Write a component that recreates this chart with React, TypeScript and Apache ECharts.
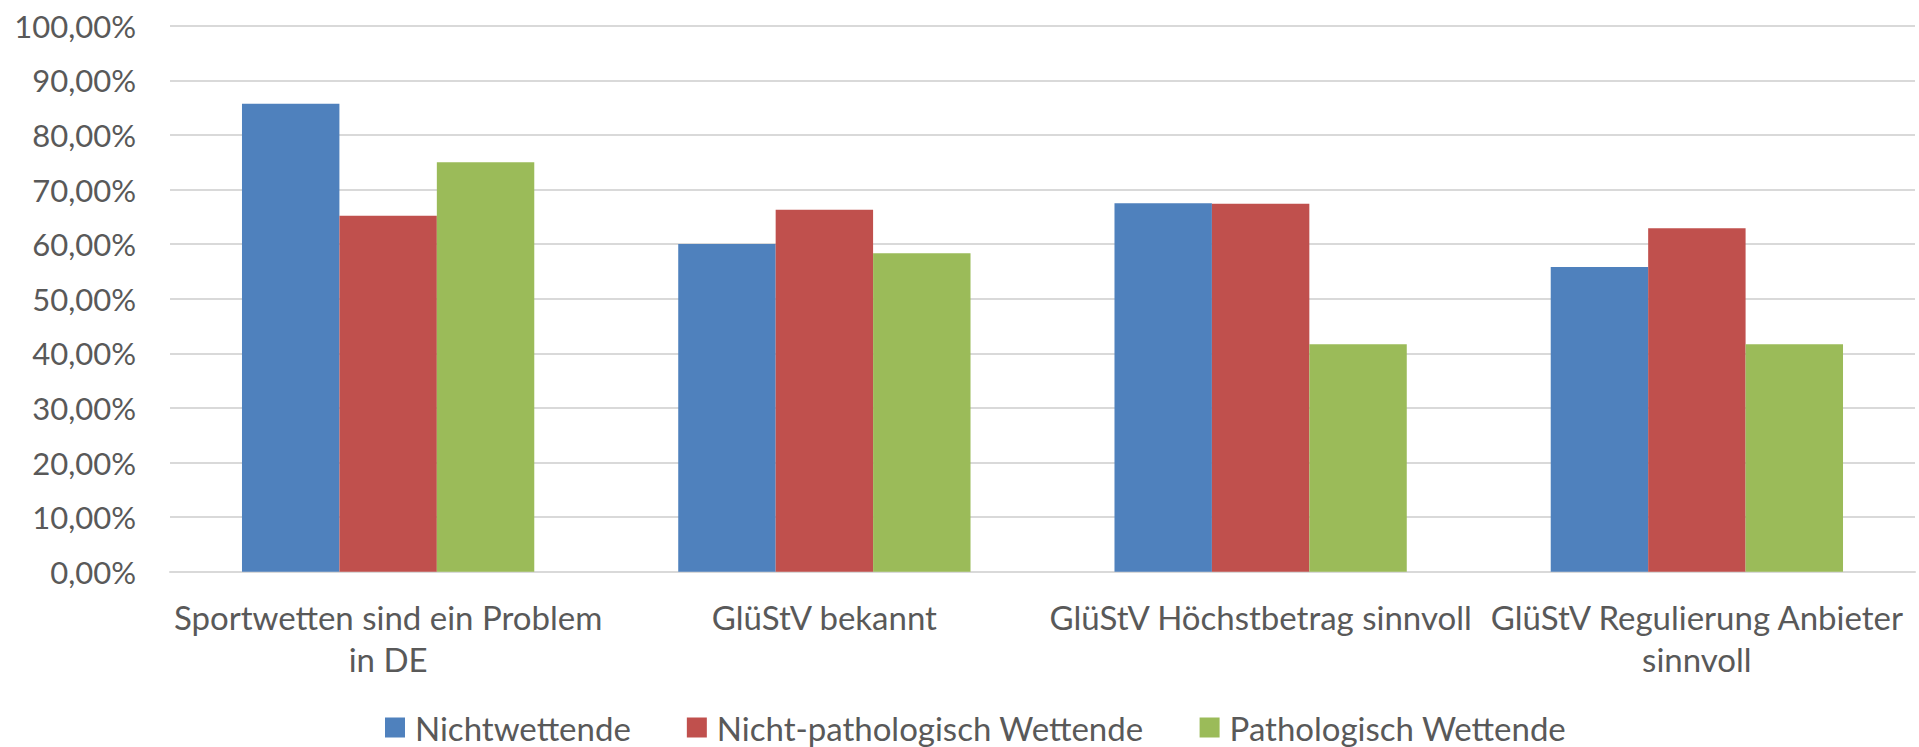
import React, { useEffect, useRef } from "react";
import * as echarts from "echarts";

const categories = [
  "Sportwetten sind ein Problem\nin DE",
  "GlüStV bekannt",
  "GlüStV Höchstbetrag sinnvoll",
  "GlüStV Regulierung Anbieter\nsinnvoll",
];
const nichtwettende = [85.71, 60.0, 67.5, 55.8];
const nichtPathologisch = [65.2, 66.3, 67.4, 62.9];
const pathologisch = [75.0, 58.33, 41.67, 41.67];
const seriesNames = ["Nichtwettende", "Nicht-pathologisch Wettende", "Pathologisch Wettende"];
const colors = ["#4F81BD", "#C0504D", "#9BBB59"];

const FONT = "Lato";
const TEXT = "#595959";

export default function App() {
  const ref = useRef<HTMLDivElement>(null);
  useEffect(() => {
    document.body.style.margin = "0";
    const chart = echarts.init(ref.current!, null, { renderer: "svg" });
    const values = [nichtwettende, nichtPathologisch, pathologisch];
    chart.setOption({
      animation: false,
      textStyle: { fontFamily: FONT },
      grid: { left: 170, right: 4, top: 25.7, bottom: 175.3, containLabel: false },
      legend: {
        data: seriesNames,
        left: 385,
        top: 711,
        padding: 0,
        itemWidth: 20,
        itemHeight: 20,
        itemGap: 56,
        icon: "rect",
        textStyle: { fontFamily: FONT, fontSize: 33, color: TEXT, padding: [0, 0, 0, 5], lineHeight: 32 },
      },
      xAxis: {
        type: "category",
        data: categories,
        axisLine: { show: true, lineStyle: { color: "#D9D9D9", width: 2 } },
        axisTick: { show: false },
        axisLabel: {
          interval: 0,
          fontFamily: FONT,
          fontSize: 33,
          color: TEXT,
          lineHeight: 42,
          margin: 24,
        },
      },
      yAxis: {
        type: "value",
        min: 0,
        max: 100,
        interval: 10,
        axisLine: { show: false },
        axisTick: { show: false },
        splitLine: { lineStyle: { color: "#D9D9D9", width: 2 } },
        axisLabel: {
          fontFamily: FONT,
          fontSize: 31,
          color: TEXT,
          margin: 34,
          formatter: (v: number) => v.toFixed(2).replace(".", ",") + "%",
        },
      },
      series: seriesNames.map((name, i) => ({
        name,
        type: "bar",
        data: values[i],
        barGap: "0%",
        barCategoryGap: "33%",
        itemStyle: { color: colors[i] },
      })),
    });
    return () => chart.dispose();
  }, []);
  return (
    <div
      ref={ref}
      style={{ position: "fixed", left: 0, top: 0, width: 1919, height: 747, background: "#fff" }}
    />
  );
}
